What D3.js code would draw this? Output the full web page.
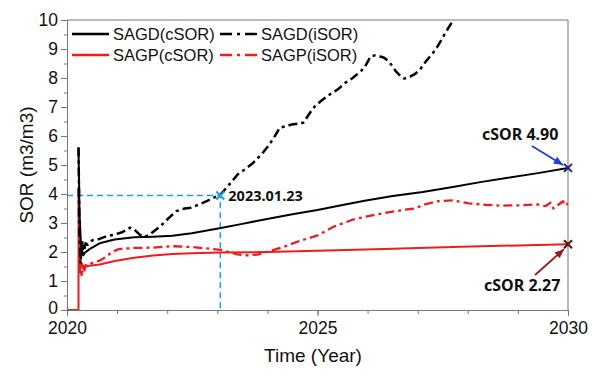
<!DOCTYPE html>
<html>
<head>
<meta charset="utf-8">
<script src="https://cdn.jsdelivr.net/npm/d3@7"></script>
<style>
  body { margin: 0; background: #fff; }
  text { font-family: Arial, "Liberation Sans", sans-serif; }
</style>
</head>
<body>
<svg id="chart" width="600" height="377"></svg>
<script>
// data: [year, SOR]
const sagdCsor = [[2020.23,5.6],[2020.25,3.3],[2020.28,2.2],[2020.32,1.92],[2020.45,2.1],[2020.65,2.3],
  [2020.95,2.43],[2021.34,2.51],[2021.72,2.53],[2022.1,2.56],[2022.49,2.65],[2023.07,2.83],[2023.5,2.97],
  [2024.02,3.15],[2024.5,3.3],[2025,3.45],[2025.5,3.62],[2025.94,3.77],[2026.5,3.93],[2027.1,4.07],
  [2027.7,4.24],[2028.25,4.41],[2028.8,4.56],[2029.4,4.72],[2030,4.9]];
const sagdIsor = [[2020.23,5.6],[2020.25,2.6],[2020.27,1.6],[2020.3,2.4],[2020.33,1.9],[2020.37,2.3],
  [2020.41,2.25],[2020.5,2.4],[2020.65,2.45],[2020.8,2.55],[2020.95,2.6],[2021.1,2.68],[2021.2,2.78],
  [2021.26,2.84],[2021.34,2.78],[2021.45,2.6],[2021.55,2.52],[2021.65,2.6],[2021.87,2.9],[2022.05,3.2],
  [2022.18,3.41],[2022.35,3.5],[2022.49,3.53],[2022.65,3.65],[2022.8,3.76],[2023.07,3.99],[2023.25,4.35],
  [2023.41,4.68],[2023.55,4.85],[2023.72,5.08],[2023.9,5.4],[2024.02,5.66],[2024.15,6.0],[2024.25,6.29],
  [2024.4,6.35],[2024.49,6.4],[2024.6,6.42],[2024.72,6.46],[2024.85,6.8],[2024.95,7.03],[2025.1,7.25],
  [2025.25,7.44],[2025.4,7.6],[2025.56,7.84],[2025.7,8.0],[2025.87,8.24],[2025.95,8.4],[2026.06,8.74],
  [2026.15,8.78],[2026.25,8.74],[2026.33,8.7],[2026.41,8.59],[2026.5,8.4],[2026.56,8.24],[2026.65,8.08],
  [2026.73,7.98],[2026.85,8.05],[2026.94,8.13],[2027.05,8.3],[2027.17,8.59],[2027.3,8.85],[2027.4,9.1],
  [2027.55,9.55],[2027.71,10.0],[2027.85,10.4]];
const sagpCsor = [[2020,0],[2020.23,0],[2020.23,4.2],[2020.25,2.0],[2020.27,1.45],[2020.3,1.6],
  [2020.33,1.48],[2020.41,1.52],[2020.65,1.57],[2020.95,1.69],[2021.34,1.8],[2021.72,1.88],[2022.1,1.93],
  [2022.49,1.96],[2023.07,1.98],[2024,2.0],[2025,2.04],[2026.33,2.1],[2027.87,2.18],[2030,2.27]];
const sagpIsor = [[2020.23,4.2],[2020.25,1.3],[2020.27,1.6],[2020.29,1.2],[2020.31,1.5],[2020.34,1.3],
  [2020.37,1.55],[2020.41,1.5],[2020.5,1.62],[2020.65,1.7],[2020.8,1.85],[2020.88,1.98],[2021.03,2.1],
  [2021.34,2.14],[2021.72,2.15],[2022.1,2.2],[2022.49,2.17],[2022.87,2.11],[2023.07,2.07],[2023.26,1.98],
  [2023.4,1.92],[2023.56,1.88],[2023.8,1.91],[2024.02,2.02],[2024.33,2.18],[2024.64,2.38],[2025,2.57],
  [2025.33,2.88],[2025.71,3.12],[2026.02,3.24],[2026.33,3.34],[2026.71,3.45],[2026.95,3.5],[2027.1,3.62],
  [2027.4,3.75],[2027.71,3.78],[2028.02,3.68],[2028.33,3.63],[2028.63,3.6],[2029.02,3.61],[2029.4,3.64],
  [2029.55,3.58],[2029.65,3.7],[2029.71,3.5],[2029.8,3.62],[2029.9,3.75],[2029.95,3.6],[2030,3.68]];

const xTicks = [2020, 2025, 2030];
const yTicks = [0,1,2,3,4,5,6,7,8,9,10];
const legendNames = ["SAGD(cSOR)", "SAGD(iSOR)", "SAGP(cSOR)", "SAGP(iSOR)"];
const markDate = [2023.06, 3.95, "2023.01.23"];
const endSagd = [2030, 4.9, "cSOR 4.90"];
const endSagp = [2030, 2.27, "cSOR 2.27"];

const svg = d3.select("#chart");
const x = d3.scaleLinear().domain([2020, 2030]).range([67, 568]);
const y = d3.scaleLinear().domain([0, 10]).range([310, 20]);

svg.append("defs").append("clipPath").attr("id", "clip")
  .append("rect").attr("x", 67).attr("y", 20).attr("width", 501).attr("height", 290);

// axes
const xAxis = svg.append("g").attr("transform", "translate(0,310)")
  .call(d3.axisBottom(x).tickValues(xTicks).tickFormat(d3.format("d")).tickSize(6).tickPadding(6));
svg.append("g").attr("transform", "translate(0,310)")
  .call(d3.axisBottom(x).tickValues(d3.range(2021, 2030)).tickFormat("").tickSize(4))
  .call(g => g.select(".domain").remove());
const yAxis = svg.append("g").attr("transform", "translate(67,0)")
  .call(d3.axisLeft(y).tickValues(yTicks).tickSize(6).tickPadding(3));
svg.append("g").attr("transform", "translate(67,0)")
  .call(d3.axisLeft(y).tickValues(d3.range(0.5, 10, 1)).tickFormat("").tickSize(3))
  .call(g => g.select(".domain").remove());
svg.selectAll(".domain, .tick line").attr("stroke", "#777");
xAxis.selectAll("text").style("font-size", "17.5px").attr("fill", "#111");
yAxis.selectAll("text").style("font-size", "17.5px").attr("fill", "#111")
  .attr("dy", d => d === 0 ? "0.2em" : "0.3em");

// frame top/right
svg.append("line").attr("x1", 67).attr("x2", 568).attr("y1", 20).attr("y2", 20).attr("stroke", "#777");
svg.append("line").attr("x1", 568).attr("x2", 568).attr("y1", 20).attr("y2", 310).attr("stroke", "#777");

svg.append("text").attr("x", 313).attr("y", 362).attr("text-anchor", "middle")
  .style("font-size", "19px").attr("fill", "#111").text("Time (Year)");
svg.append("text").attr("transform", "translate(33,165) rotate(-90)").attr("text-anchor", "middle")
  .style("font-size", "19px").attr("fill", "#111").text("SOR (m3/m3)");

// guide to the 2023.01.23 point
const blue = "#1ba1e2";
svg.append("path")
  .attr("d", `M${x(2020)},${y(markDate[1])}H${x(markDate[0])}V${y(0)}`)
  .attr("fill", "none").attr("stroke", blue).attr("stroke-width", 1.5).attr("stroke-dasharray", "6,4");

const line = d3.line().x(d => x(d[0])).y(d => y(d[1]));
const plot = svg.append("g").attr("clip-path", "url(#clip)");
const series = [
  { data: sagpIsor, color: "#ee1c1c", dash: "9,4,3,4", w: 2.3 },
  { data: sagpCsor, color: "#ee1c1c", dash: null, w: 2 },
  { data: sagdIsor, color: "#000", dash: "9,4,3,4", w: 2.5 },
  { data: sagdCsor, color: "#000", dash: null, w: 2 }
];
series.forEach(s => {
  plot.append("path").attr("d", line(s.data)).attr("fill", "none")
    .attr("stroke", s.color).attr("stroke-width", s.w)
    .attr("stroke-dasharray", s.dash).attr("stroke-linejoin", "round");
});

// legend
const legend = [
  { name: legendNames[0], color: "#000", dash: null, lx: 72, ly: 34 },
  { name: legendNames[1], color: "#000", dash: "12,5,3,5", lx: 220, ly: 34 },
  { name: legendNames[2], color: "#ee1c1c", dash: null, lx: 72, ly: 55 },
  { name: legendNames[3], color: "#ee1c1c", dash: "12,5,3,5", lx: 220, ly: 55 }
];
legend.forEach(l => {
  svg.append("line").attr("x1", l.lx).attr("x2", l.lx + 37).attr("y1", l.ly).attr("y2", l.ly)
    .attr("stroke", l.color).attr("stroke-width", 2.3).attr("stroke-dasharray", l.dash);
  svg.append("text").attr("x", l.lx + 41).attr("y", l.ly + 6).style("font-size", "16.5px")
    .attr("fill", "#111").text(l.name);
});

// cross markers
function cross(cx, cy, color, r = 4) {
  svg.append("path").attr("d", `M${cx - r},${cy - r}L${cx + r},${cy + r}M${cx - r},${cy + r}L${cx + r},${cy - r}`)
    .attr("stroke", color).attr("stroke-width", 2);
}
cross(x(markDate[0]), y(markDate[1]), blue);
cross(x(endSagd[0]), y(endSagd[1]), "#1a237e");
cross(x(endSagp[0]), y(endSagp[1]), "#5a1010");

function label(tx, ty, txt, size) {
  svg.append("text").attr("x", tx).attr("y", ty).attr("fill", "#111").text(txt)
    .style("font-family", "'Noto Sans', 'Open Sans', sans-serif")
    .style("font-weight", "bold").style("font-size", size + "px");
}
label(x(markDate[0]) + 8, y(markDate[1]) + 6, markDate[2], 14.5);
label(482, 140, endSagd[2], 16);
label(484, 291, endSagp[2], 16);

// arrows
function arrow(x1, y1, x2, y2, color) {
  svg.append("line").attr("x1", x1).attr("y1", y1).attr("x2", x2).attr("y2", y2)
    .attr("stroke", color).attr("stroke-width", 1.8);
  const a = Math.atan2(y2 - y1, x2 - x1), len = 10, half = 0.4;
  const p1 = [x2 - len * Math.cos(a - half), y2 - len * Math.sin(a - half)];
  const p2 = [x2 - len * Math.cos(a + half), y2 - len * Math.sin(a + half)];
  svg.append("path").attr("d", `M${x2},${y2}L${p1}L${p2}Z`).attr("fill", color);
}
arrow(532, 146, x(endSagd[0]) - 5, y(endSagd[1]) - 3, "#1e3de6");
arrow(535, 275, x(endSagp[0]) - 4, y(endSagp[1]) + 5, "#a31515");
</script>
</body>
</html>
